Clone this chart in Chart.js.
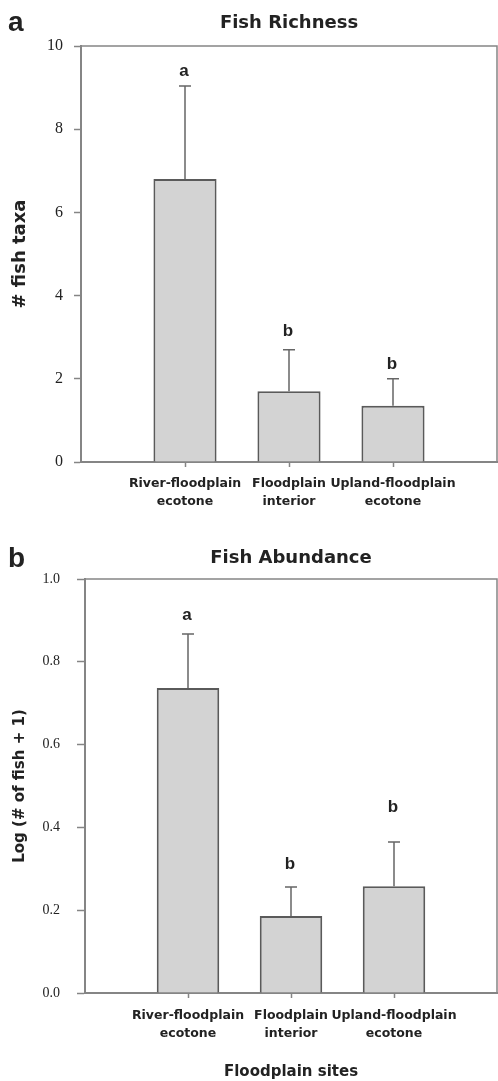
<!DOCTYPE html>
<html>
<head>
<meta charset="utf-8">
<script src="https://cdn.jsdelivr.net/npm/chart.js@4"></script>
<style>
  html, body { margin: 0; padding: 0; background: #fff; }
  body { width: 498px; height: 1081px; position: relative; overflow: hidden; }
  canvas { position: absolute; left: 0; }
</style>
</head>
<body>
<canvas id="richness" width="498" height="520" style="top:0"></canvas>
<canvas id="abundance" width="498" height="561" style="top:520px"></canvas>
<script>
// sites on the x axis (two-line labels)
const sites = [['River-floodplain', 'ecotone'], ['Floodplain', 'interior'], ['Upland-floodplain', 'ecotone']];

// panel a - fish richness
const richnessMean = [6.8, 1.7, 1.35];
const richnessErr = [2.24, 1.0, 0.65];
const richnessLetters = ['a', 'b', 'b'];
const richnessLetterAt = [9.38, 3.13, 2.36];

// panel b - fish abundance, log(# of fish + 1)
const abundanceMean = [0.737, 0.186, 0.258];
const abundanceErr = [0.13, 0.07, 0.107];
const abundanceLetters = ['a', 'b', 'b'];
const abundanceLetterAt = [0.912, 0.311, 0.449];

const axisGrey = '#858585';
const textCol = '#222';

// blank slot on each side, like the original plot
const padLabels = ['', ...sites, ''];
const pad = arr => [null, ...arr, null];

const extras = {
    id: 'extras',
    afterDatasetsDraw(chart, args, opts) {
        const {ctx, chartArea} = chart;
        const y = chart.scales.y;
        const meta = chart.getDatasetMeta(0);
        ctx.save();
        // box around the plot (top + right)
        ctx.strokeStyle = axisGrey;
        ctx.lineWidth = 1.5;
        ctx.beginPath();
        ctx.moveTo(chartArea.left, chartArea.top);
        ctx.lineTo(chartArea.right, chartArea.top);
        ctx.lineTo(chartArea.right, chartArea.bottom);
        ctx.stroke();

        // error bars (upper only) + letters
        opts.means.forEach((m, i) => {
            const bar = meta.data[i + 1];
            const yEnd = y.getPixelForValue(m + opts.errors[i]);
            ctx.strokeStyle = '#666';
            ctx.lineWidth = 1.5;
            ctx.beginPath();
            ctx.moveTo(bar.x, bar.y);
            ctx.lineTo(bar.x, yEnd);
            ctx.moveTo(bar.x - 6, yEnd);
            ctx.lineTo(bar.x + 6, yEnd);
            ctx.stroke();

            ctx.fillStyle = textCol;
            ctx.font = 'bold 17px "Liberation Sans"';
            ctx.textAlign = 'center';
            ctx.textBaseline = 'middle';
            ctx.fillText(opts.letters[i], bar.x - 1, y.getPixelForValue(opts.letterAt[i]));
        });

        // panel letter
        ctx.font = 'bold 28px "Liberation Sans"';
        ctx.textAlign = 'left';
        ctx.textBaseline = 'alphabetic';
        ctx.fillText(opts.panel, 8, opts.panelY);
        ctx.restore();
    }
};

function makeChart(id, cfg) {
    return new Chart(document.getElementById(id), {
        type: 'bar',
        data: {
            labels: padLabels,
            datasets: [{
                data: pad(cfg.means),
                backgroundColor: '#d3d3d3',
                borderColor: '#5a5a5a',
                borderWidth: 2,
                barPercentage: 0.607,
                categoryPercentage: 1
            }]
        },
        options: {
            responsive: false,
            animation: false,
            layout: { padding: { top: 0, right: 1, bottom: 0, left: 0 } },
            plugins: {
                legend: { display: false },
                tooltip: { enabled: false },
                title: {
                    display: true,
                    text: cfg.title,
                    fullSize: false,
                    color: textCol,
                    font: { family: 'DejaVu Sans', size: 18, weight: 'bold' },
                    padding: cfg.titlePad
                },
                extras: {
                    means: cfg.means,
                    errors: cfg.errors,
                    letters: cfg.letters,
                    letterAt: cfg.letterAt,
                    panel: cfg.panel,
                    panelY: cfg.panelY
                }
            },
            scales: {
                x: {
                    type: 'category',
                    offset: false,
                    afterFit: s => {
                        s.height = cfg.xHeight;
                        // end labels are blank, don't reserve room for them
                        s.paddingLeft = 0;
                        s.paddingRight = 0;
                    },
                    grid: {
                        offset: false,
                        drawOnChartArea: false,
                        tickLength: 5,
                        tickWidth: 1.5,
                        tickColor: c => (c.index > 0 && c.index < padLabels.length - 1) ? axisGrey : 'rgba(0,0,0,0)'
                    },
                    border: { color: axisGrey, width: 2 },
                    ticks: {
                        autoSkip: false,
                        maxRotation: 0,
                        padding: cfg.xPad,
                        color: textCol,
                        font: { family: 'DejaVu Sans', size: 12.5, weight: 'bold', lineHeight: 1.45 }
                    },
                    title: cfg.xTitle
                        ? { display: true, text: cfg.xTitle, color: textCol, padding: { top: 0, bottom: 0 },
                            font: { family: 'DejaVu Sans', size: 15, weight: 'bold' } }
                        : { display: false }
                },
                y: {
                    min: cfg.yMin,
                    max: cfg.yMax,
                    afterFit: s => { s.width = cfg.yWidth; },
                    grid: {
                        drawOnChartArea: false,
                        tickLength: cfg.tickLen,
                        tickWidth: 1.5,
                        tickColor: axisGrey
                    },
                    border: { color: axisGrey, width: 2 },
                    ticks: {
                        stepSize: cfg.step,
                        padding: cfg.yPad,
                        color: textCol,
                        font: { family: 'Liberation Serif', size: cfg.tickSize },
                        callback: cfg.fmt
                    },
                    title: {
                        display: true,
                        text: cfg.yTitle,
                        color: textCol,
                        font: { family: 'DejaVu Sans', size: cfg.yTitleSize, weight: 'bold' },
                        padding: { top: cfg.yTitlePad, bottom: 0 }
                    }
                }
            }
        },
        plugins: [extras]
    });
}

makeChart('richness', {
    title: 'Fish Richness',
    titlePad: { top: 12.7, bottom: 11.7 },
    means: richnessMean, errors: richnessErr,
    letters: richnessLetters, letterAt: richnessLetterAt,
    panel: 'a', panelY: 31,
    xHeight: 58, xPad: 8,
    yMin: 0, yMax: 10, step: 2,
    yWidth: 81, tickLen: 7, yPad: 11, tickSize: 16,
    fmt: v => v,
    yTitle: '# fish taxa', yTitleSize: 18, yTitlePad: 10
});

makeChart('abundance', {
    title: 'Fish Abundance',
    titlePad: { top: 27.7, bottom: 9.7 },
    means: abundanceMean, errors: abundanceErr,
    letters: abundanceLetters, letterAt: abundanceLetterAt,
    panel: 'b', panelY: 47,
    xHeight: 88, xPad: 9,
    xTitle: 'Floodplain sites',
    yMin: 0, yMax: 1, step: 0.2,
    yWidth: 85, tickLen: 8, yPad: 17, tickSize: 14,
    fmt: v => Number(v).toFixed(1),
    yTitle: 'Log (# of fish + 1)', yTitleSize: 15, yTitlePad: 11
});
</script>
</body>
</html>
